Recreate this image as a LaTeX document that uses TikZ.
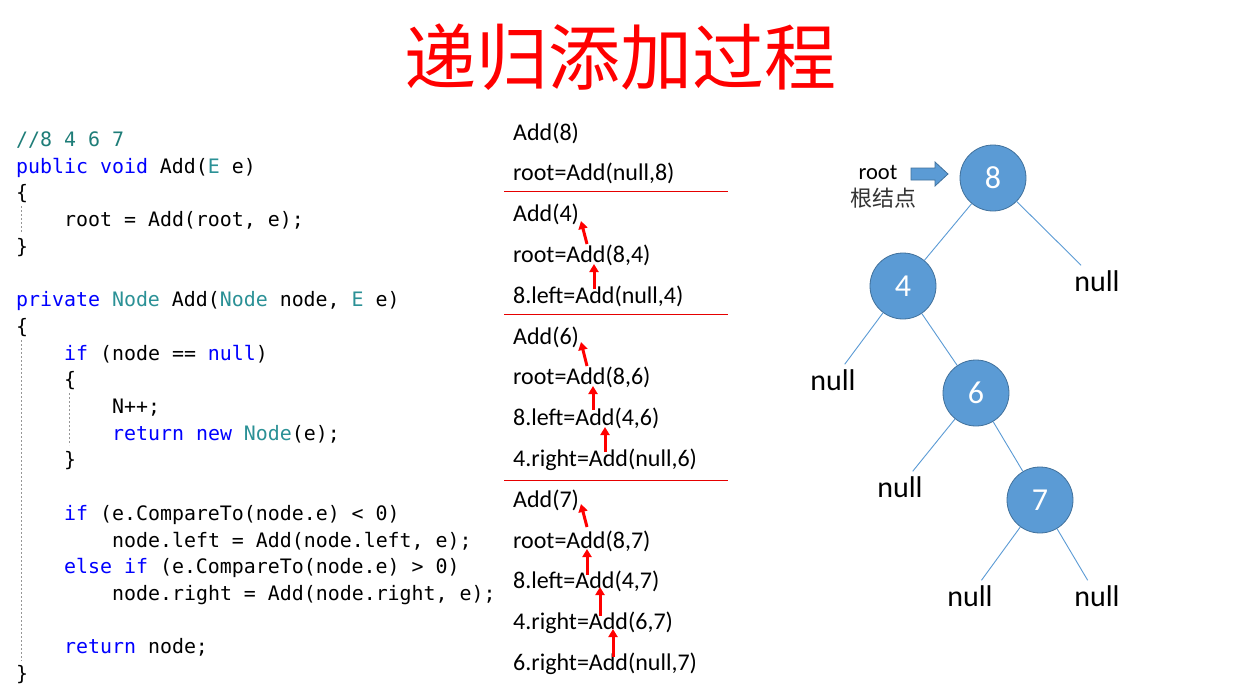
\documentclass[tikz,border=0pt]{standalone}
\usepackage{fontspec}
\setmainfont{Carlito}
\setmonofont{DejaVu Sans Mono}
\newfontfamily\cjk{Noto Sans CJK SC}
\usetikzlibrary{arrows.meta}
\definecolor{kwblue}{RGB}{0,0,255}
\definecolor{tyteal}{RGB}{43,145,150}
\definecolor{cmteal}{RGB}{30,125,120}
\definecolor{nodefill}{RGB}{91,155,213}
\definecolor{nodeline}{RGB}{65,113,156}
\definecolor{guide}{RGB}{150,150,150}
\definecolor{titlered}{RGB}{255,0,0}
\definecolor{sepred}{RGB}{230,0,0}
\newcommand\kw[1]{\textcolor{kwblue}{#1}}
\newcommand\ty[1]{\textcolor{tyteal}{#1}}
\tikzset{
  code/.style={font=\ttfamily\fontsize{19.9}{22}\selectfont, inner sep=0pt, anchor=base west},
  mid/.style={font=\fontsize{24}{28}\selectfont, inner sep=0pt, anchor=base west},
  redarr/.style={draw=red, line width=3pt, -{Triangle[length=8pt,width=9pt]}},
  sepline/.style={draw=sepred, line width=0.9pt},
  guideline/.style={draw=guide, line width=0.8pt, dash pattern=on 2pt off 2pt},
  tnode/.style={circle, draw=nodeline, line width=0.8pt, fill=nodefill, minimum size=66pt, inner sep=0pt,
    text=white, font=\fontsize{32}{36}\selectfont},
  nulllab/.style={font=\fontsize{30}{34}\selectfont, inner sep=5pt},
  edge/.style={draw=nodefill, line width=0.9pt},
  blockarrow/.style={draw=nodeline, fill=nodefill, line width=0.8pt, line join=miter},
}
\begin{document}
\begin{tikzpicture}[x=1pt,y=-1pt]
\useasboundingbox[fill=white] (0,0) rectangle (1235,696);
% title
\node[font=\cjk\fontsize{72}{80}\selectfont, text=titlered, inner sep=0pt] (title) at (620,57) {递归添加过程};
% code
\newcommand\codeline[3]{\node[code] (c#1) at ({16+12*#2},{146.5+26.7*#1}) {#3};}
\codeline{0}{0}{\textcolor{cmteal}{//8 4 6 7}}
\codeline{1}{0}{\kw{public} \kw{void} Add(\ty{E} e)}
\codeline{2}{0}{\{}
\codeline{3}{4}{root = Add(root, e);}
\codeline{4}{0}{\}}
\codeline{6}{0}{\kw{private} \ty{Node} Add(\ty{Node} node, \ty{E} e)}
\codeline{7}{0}{\{}
\codeline{8}{4}{\kw{if} (node == \kw{null})}
\codeline{9}{4}{\{}
\codeline{10}{8}{N++;}
\codeline{11}{8}{\kw{return} \kw{new} \ty{Node}(e);}
\codeline{12}{4}{\}}
\codeline{14}{4}{\kw{if} (e.CompareTo(node.e) < 0)}
\codeline{15}{8}{node.left = Add(node.left, e);}
\codeline{16}{4}{\kw{else} \kw{if} (e.CompareTo(node.e) > 0)}
\codeline{17}{8}{node.right = Add(node.right, e);}
\codeline{19}{4}{\kw{return} node;}
\codeline{20}{0}{\}}
% guides
\coordinate (g1a) at (21,206); \coordinate (g1b) at (21,232);
\coordinate (g2a) at (21,340); \coordinate (g2b) at (21,661);
\coordinate (g3a) at (69,393); \coordinate (g3b) at (69,445);
\draw[guideline] (g1a) -- (g1b);
\draw[guideline] (g2a) -- (g2b);
\draw[guideline] (g3a) -- (g3b);
% middle column
\newcommand\midline[2]{\node[mid] (m#1) at (513,{140+40.8*#1}) {#2};}
\midline{0}{Add(8)}
\midline{1}{root=Add(null,8)}
\midline{2}{Add(4)}
\midline{3}{root=Add(8,4)}
\midline{4}{8.left=Add(null,4)}
\midline{5}{Add(6)}
\midline{6}{root=Add(8,6)}
\midline{7}{8.left=Add(4,6)}
\midline{8}{4.right=Add(null,6)}
\midline{9}{Add(7)}
\midline{10}{root=Add(8,7)}
\midline{11}{8.left=Add(4,7)}
\midline{12}{4.right=Add(6,7)}
\midline{13}{6.right=Add(null,7)}
% separators
\coordinate (s1a) at (504,191); \coordinate (s1b) at (728,191);
\coordinate (s2a) at (504,314); \coordinate (s2b) at (728,314);
\coordinate (s3a) at (504,480); \coordinate (s3b) at (728,480);
\draw[sepline] (s1a) -- (s1b);
\draw[sepline] (s2a) -- (s2b);
\draw[sepline] (s3a) -- (s3b);
% red arrows
\coordinate (a1s) at (587,244); \coordinate (a1e) at (581,221);
\coordinate (a2s) at (594,289); \coordinate (a2e) at (594,264);
\coordinate (a3s) at (587,366); \coordinate (a3e) at (581,342);
\coordinate (a4s) at (593,410); \coordinate (a4e) at (593,386);
\coordinate (a5s) at (605,452); \coordinate (a5e) at (605,427);
\coordinate (a6s) at (587,527); \coordinate (a6e) at (581,504);
\coordinate (a7s) at (587,575); \coordinate (a7e) at (587,549);
\coordinate (a8s) at (600,616); \coordinate (a8e) at (600,587);
\coordinate (a9s) at (613,657); \coordinate (a9e) at (613,629);
\foreach \i in {1,...,9} {\draw[redarr] (a\i s) -- (a\i e);}
% tree
\node[tnode] (n8) at (993,178) {8};
\node[tnode] (n4) at (903,286) {4};
\node[tnode] (n6) at (976,393) {6};
\node[tnode] (n7) at (1040,500) {7};
\node[nulllab] (z8) at (1097,281) {null};
\node[nulllab] (z4) at (833,380) {null};
\node[nulllab] (z6) at (900,487) {null};
\node[nulllab] (z7l) at (970,596) {null};
\node[nulllab] (z7r) at (1097,596) {null};
\draw[edge] (n8) -- (n4);
\draw[edge] (n8) -- (z8);
\draw[edge] (n4) -- (z4);
\draw[edge] (n4) -- (n6);
\draw[edge] (n6) -- (z6);
\draw[edge] (n6) -- (n7);
\draw[edge] (n7) -- (z7l);
\draw[edge] (n7) -- (z7r);
% root pointer
\node[font=\fontsize{22.5}{26}\selectfont, inner sep=0pt] (rootlab) at (878,172) {root};
\node[font=\cjk\fontsize{22}{26}\selectfont, text=black!80, inner sep=0pt] (rootcn) at (883,198) {根结点};
\draw[blockarrow] (911,168) -- (935,168) -- (935,162) -- (948,174) -- (935,186) -- (935,180) -- (911,180) -- cycle;
\end{tikzpicture}
\end{document}
